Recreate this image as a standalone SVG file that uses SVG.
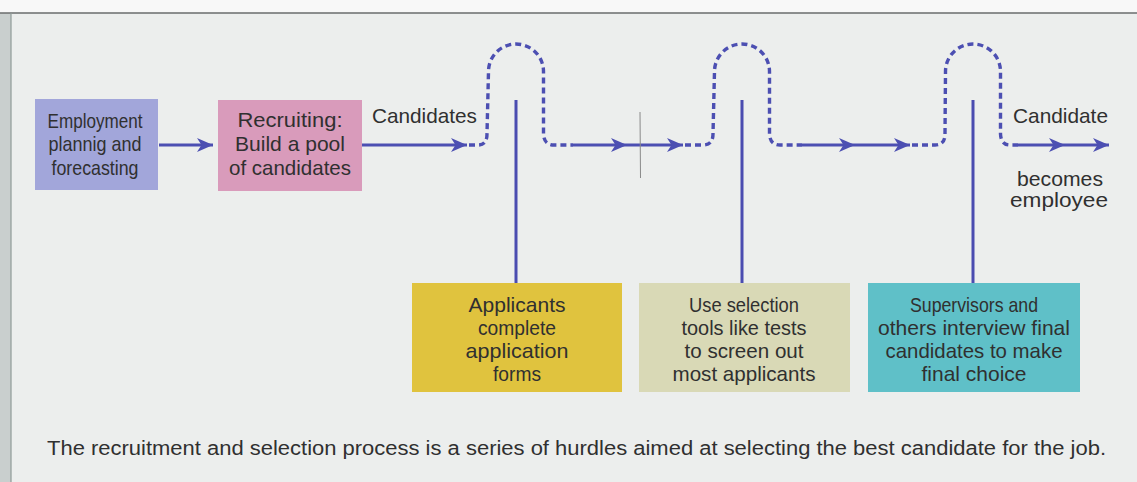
<svg xmlns="http://www.w3.org/2000/svg" width="1137" height="482" viewBox="0 0 1137 482">
<style>
  .t { font-family: "Liberation Sans", Arial, sans-serif; font-size: 21px; fill: #303030; text-anchor: middle; }
  .tl { font-family: "Liberation Sans", Arial, sans-serif; font-size: 21px; fill: #303030; }
  .solid { stroke: #4c4fb2; stroke-width: 3.2; fill: none; }
  .dash { stroke: #4c4fb2; stroke-width: 3.4; fill: none; stroke-dasharray: 6 4; }
  .post { stroke: #4a4cb0; stroke-width: 3; fill: none; }
</style>
<defs>
  <marker id="arr" markerUnits="userSpaceOnUse" markerWidth="18" markerHeight="16" refX="16" refY="8" orient="auto">
    <path d="M0,1 L16,8 L0,15 L4.5,8 Z" fill="#4c4fb2"/>
  </marker>
</defs>
<rect x="0" y="0" width="1137" height="482" fill="#eceeed"/>
<rect x="0" y="0" width="1137" height="13" fill="#f8f8f8"/>
<rect x="0" y="13" width="11" height="469" fill="#c9cfce"/>
<line x1="0" y1="13" x2="1137" y2="13" stroke="#6a6d6c" stroke-width="1.5"/>
<line x1="11" y1="13" x2="11" y2="482" stroke="#8f9a98" stroke-width="1.2"/>

<g id="connectors">
  <line class="solid" x1="159" y1="145" x2="213" y2="145" marker-end="url(#arr)"/>
  <line class="solid" x1="362" y1="145" x2="467" y2="145" marker-end="url(#arr)"/>
  <path class="dash" d="M469 145 L478 145 Q487 145 487 134 L488.5 71.5 A27.5 27.5 0 0 1 543.5 71.5 L543.5 134 Q544 145 554 145 L573 145"/>
  <polyline class="solid" points="573,145 627,145 683,145" marker-mid="url(#arr)" marker-end="url(#arr)"/>
  <path class="dash" d="M685 145 L703 145 Q713 145 713 134 L714.5 71.5 A27.5 27.5 0 0 1 769.5 71.5 L769.5 134 Q770 145 780 145 L802 145"/>
  <polyline class="solid" points="802,145 855,145 910,145" marker-mid="url(#arr)" marker-end="url(#arr)"/>
  <path class="dash" d="M912 145 L935 145 Q945 145 945 134 L945.5 71.5 A27.5 27.5 0 0 1 1000.5 71.5 L1000.5 134 Q1001 145 1010 145 L1018 145"/>
  <polyline class="solid" points="1018,145 1065,145 1109,145" marker-mid="url(#arr)" marker-end="url(#arr)"/>
  <line class="post" x1="516" y1="100" x2="516" y2="283"/>
  <line class="post" x1="742" y1="100" x2="742" y2="283"/>
  <line class="post" x1="973" y1="100" x2="973" y2="283"/>
  <line x1="640" y1="112" x2="640.5" y2="178" stroke="#8a8a8a" stroke-width="1"/>
</g>

<g id="planning">
  <rect x="35" y="99" width="123" height="91" fill="#a2a6da"/>
  <text class="t" x="95" y="128" textLength="95" lengthAdjust="spacingAndGlyphs">Employment</text>
  <text class="t" x="95" y="151" textLength="93" lengthAdjust="spacingAndGlyphs">plannig and</text>
  <text class="t" x="95" y="175" textLength="87" lengthAdjust="spacingAndGlyphs">forecasting</text>
</g>

<g id="recruiting">
  <rect x="218" y="100" width="144" height="91" fill="#d99bbb"/>
  <text class="t" x="290" y="127" textLength="105" lengthAdjust="spacingAndGlyphs">Recruiting:</text>
  <text class="t" x="290" y="151" textLength="110" lengthAdjust="spacingAndGlyphs">Build a pool</text>
  <text class="t" x="290" y="175" textLength="122" lengthAdjust="spacingAndGlyphs">of candidates</text>
</g>

<g id="candidates-label">
  <text class="tl" x="372" y="123" textLength="105" lengthAdjust="spacingAndGlyphs">Candidates</text>
</g>

<g id="employee-label">
  <text class="tl" x="1013" y="123" textLength="95" lengthAdjust="spacingAndGlyphs">Candidate</text>
  <text class="t" x="1060" y="186" textLength="86" lengthAdjust="spacingAndGlyphs">becomes</text>
  <text class="t" x="1059" y="207" textLength="98" lengthAdjust="spacingAndGlyphs">employee</text>
</g>

<g id="applicants">
  <rect x="412" y="283" width="210" height="109" fill="#e0c33e"/>
  <text class="t" x="517" y="312" textLength="97" lengthAdjust="spacingAndGlyphs">Applicants</text>
  <text class="t" x="517" y="335" textLength="78" lengthAdjust="spacingAndGlyphs">complete</text>
  <text class="t" x="517" y="358" textLength="103" lengthAdjust="spacingAndGlyphs">application</text>
  <text class="t" x="517" y="381" textLength="48" lengthAdjust="spacingAndGlyphs">forms</text>
</g>

<g id="selection">
  <rect x="639" y="283" width="211" height="109" fill="#d9d9b6"/>
  <text class="t" x="744" y="312" textLength="110" lengthAdjust="spacingAndGlyphs">Use selection</text>
  <text class="t" x="744" y="335" textLength="125" lengthAdjust="spacingAndGlyphs">tools like tests</text>
  <text class="t" x="744" y="358" textLength="119" lengthAdjust="spacingAndGlyphs">to screen out</text>
  <text class="t" x="744" y="381" textLength="143" lengthAdjust="spacingAndGlyphs">most applicants</text>
</g>

<g id="interview">
  <rect x="868" y="283" width="212" height="109" fill="#5fc0c8"/>
  <text class="t" x="974" y="312" textLength="128" lengthAdjust="spacingAndGlyphs">Supervisors and</text>
  <text class="t" x="974" y="335" textLength="192" lengthAdjust="spacingAndGlyphs">others interview final</text>
  <text class="t" x="974" y="358" textLength="177" lengthAdjust="spacingAndGlyphs">candidates to make</text>
  <text class="t" x="974" y="381" textLength="105" lengthAdjust="spacingAndGlyphs">final choice</text>
</g>

<g id="caption">
  <text class="tl" x="47" y="455" style="font-size:19.5px" textLength="1059" lengthAdjust="spacingAndGlyphs">The recruitment and selection process is a series of hurdles aimed at selecting the best candidate for the job.</text>
</g>
</svg>
